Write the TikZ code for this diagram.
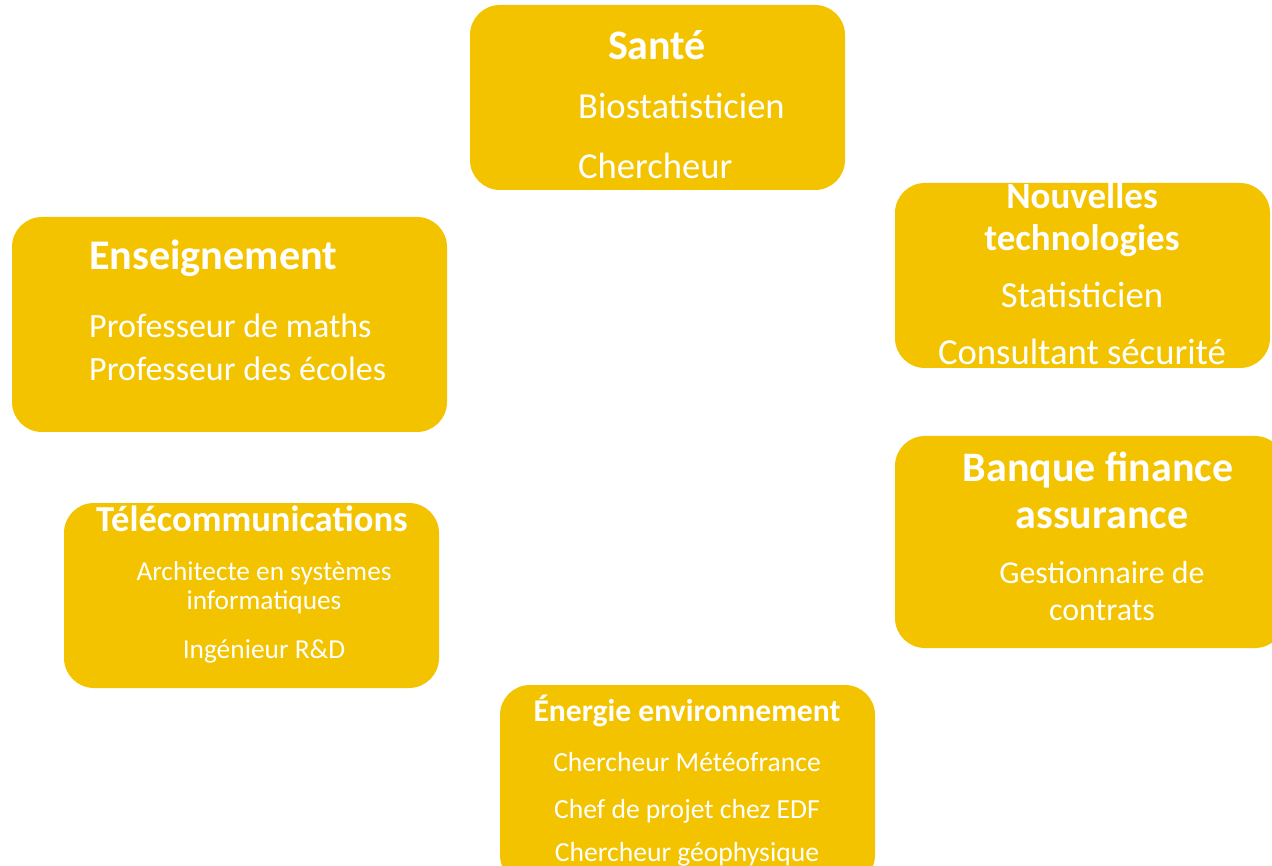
\documentclass[tikz,border=0pt]{standalone}
\usepackage{fontspec}
\setmainfont{Carlito}
\usepackage{xcolor}
\usetikzlibrary{positioning}
\definecolor{jaune}{RGB}{243,195,0}

\begin{document}
\begin{tikzpicture}[
        x=1pt, y=-1pt, % one unit = one pixel of the page, y going down
        pole/.style={fill=jaune, rounded corners=30pt, inner sep=0pt},
        titre/.style={text=white, inner sep=0pt, align=center},
        metier/.style={text=white, inner sep=0pt, align=center},
    ]

    % --- PAGE ---
    \useasboundingbox (0,0) rectangle (1272,866);
    \clip (0,0) rectangle (1272,866);

    % --- BOXES ---
    \node[pole, minimum width=375pt, minimum height=185pt] (sante) at (657.5,97.5) {};
    \node[pole, minimum width=375pt, minimum height=185pt] (techno) at (1082.5,275.5) {};
    \node[pole, minimum width=435pt, minimum height=215pt] (enseign) at (229.5,324.5) {};
    \node[pole, minimum width=390pt, minimum height=212pt] (banque) at (1090,542) {};
    \node[pole, minimum width=375pt, minimum height=185pt] (telecom) at (251.5,595.5) {};
    \node[pole, minimum width=375pt, minimum height=200pt] (energie) at (687.5,785) {};

    % Santé
    \node[titre, font=\fontsize{42}{46}\selectfont\bfseries] (sante-t) at (657,45) {Santé};
    \node[metier, anchor=west, font=\fontsize{36.6}{42}\selectfont] (sante-1) at (578,106) {Biostatisticien};
    \node[metier, anchor=west, font=\fontsize{36.6}{42}\selectfont] (sante-2) at (578,166) {Chercheur};

    % Nouvelles technologies
    \node[titre, font=\fontsize{37}{42}\selectfont\bfseries] (techno-t) at (1082,220) {Nouvelles\\technologies};
    \node[metier, font=\fontsize{36.7}{42}\selectfont] (techno-1) at (1082,295) {Statisticien};
    \node[metier, font=\fontsize{36.7}{42}\selectfont] (techno-2) at (1082,352) {Consultant sécurité};

    % Enseignement
    \node[titre, anchor=west, font=\fontsize{42.2}{46}\selectfont\bfseries] (enseign-t) at (89,258) {Enseignement};
    \node[metier, anchor=west, font=\fontsize{34}{40}\selectfont] (enseign-1) at (89,326) {Professeur de maths};
    \node[metier, anchor=west, font=\fontsize{34}{40}\selectfont] (enseign-2) at (89,369) {Professeur des écoles};

    % Banque finance assurance
    \node[titre, font=\fontsize{42}{47}\selectfont\bfseries] (banque-t) at (1098,470) {Banque finance};
    \node[titre, font=\fontsize{42}{47}\selectfont\bfseries] (banque-t2) at (1102,518) {assurance};
    \node[metier, font=\fontsize{31.9}{37}\selectfont] (banque-1) at (1102,591) {Gestionnaire de\\contrats};

    % Télécommunications
    \node[titre, font=\fontsize{36.6}{40}\selectfont\bfseries] (telecom-t) at (252,519) {Télécommunications};
    \node[metier, font=\fontsize{27.3}{29}\selectfont] (telecom-1) at (264,588) {Architecte en systèmes\\informatiques};
    \node[metier, font=\fontsize{27.4}{31}\selectfont] (telecom-2) at (264,651) {Ingénieur R\&D};

    % Énergie environnement
    \node[titre, font=\fontsize{31.6}{36}\selectfont\bfseries] (energie-t) at (687,711) {Énergie environnement};
    \node[metier, font=\fontsize{27.6}{32}\selectfont] (energie-1) at (687,762) {Chercheur Météofrance};
    \node[metier, font=\fontsize{27.6}{32}\selectfont] (energie-2) at (687,811) {Chef de projet chez EDF};
    \node[metier, font=\fontsize{27.6}{32}\selectfont] (energie-3) at (687,854) {Chercheur géophysique};

\end{tikzpicture}
\end{document}
